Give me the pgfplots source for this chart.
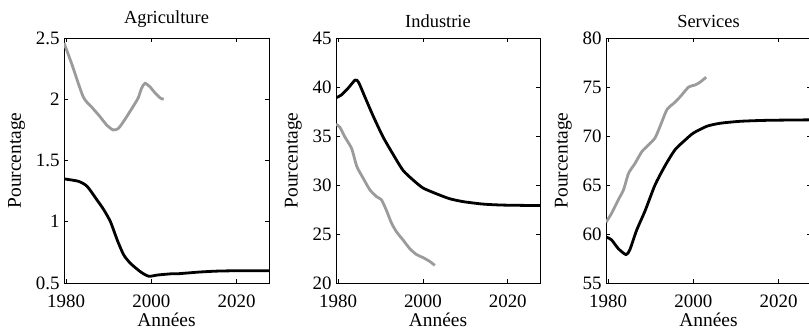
\documentclass[border=0pt]{standalone}
\usepackage{fontspec}
\setmainfont{Liberation Serif}
\usepackage{pgfplots}
\pgfplotsset{compat=1.18}
\definecolor{lgray}{RGB}{155,155,155}
\pgfplotsset{
  panel/.style={
    scale only axis, width=205bp, height=245bp, anchor=south west,
    xmin=1979.5, xmax=2027.6, xtick={1980,2000,2020},
    tick align=inside, major tick length=4bp,
    axis line style={line width=0.8pt}, every tick/.style={black,line width=0.6pt},
    /pgf/number format/assume math mode=true,
    /pgf/number format/1000 sep={},
    ticklabel style={font=\fontsize{19}{19}\selectfont},
    xticklabel style={yshift=-8.5bp},
    yticklabel style={xshift=-1bp},
    label style={font=\fontsize{19.5}{19.5}\selectfont},
    xlabel style={yshift=1.5bp},
    ylabel style={yshift=4bp},
    title style={font=\fontsize{18.5}{18.5}\selectfont, yshift=1bp},
    xlabel={Années}, ylabel={Pourcentage},
    clip=true,
  },
  blk/.style={black, line width=2.8bp, smooth, tension=0.4},
  gry/.style={lgray, line width=2.8bp, smooth, tension=0.4},
}
\begin{document}
\begin{tikzpicture}[x=1bp,y=1bp]
\begin{axis}[panel, at={(64bp,47bp)}, title={Agriculture},
  ymin=0.5, ymax=2.5, ytick={0.5,1,1.5,2,2.5},
  yticklabels={0.5,1,1.5,2,2.5}]
\addplot[gry] coordinates {
(1979.5,2.46) (1981.3,2.29) (1984.0,2.02) (1985.9,1.94) (1987.9,1.86)
(1989.5,1.79) (1991.0,1.75) (1992.2,1.76) (1993.7,1.83) (1995.7,1.94)
(1996.9,2.01) (1997.7,2.09) (1998.5,2.13) (1999.7,2.10) (2000.9,2.05)
(2002.1,2.01) (2002.9,2.00)};
\addplot[blk] coordinates {
(1979.5,1.35) (1982.9,1.33) (1984.9,1.29) (1987.2,1.18) (1988.8,1.10)
(1990.4,1.00) (1992.0,0.85) (1993.5,0.73) (1995.1,0.66) (1997.5,0.59)
(1999.4,0.555) (2001.4,0.565) (2004.6,0.575) (2006.0,0.575) (2011.5,0.59)
(2015.4,0.597) (2020,0.60) (2027.6,0.60)};
\end{axis}
\begin{axis}[panel, at={(336bp,47bp)}, width=204bp, title={Industrie},
  ymin=20, ymax=45, ytick={20,25,30,35,40,45}]
\addplot[gry] coordinates {
(1979.5,36.2) (1980.4,35.9) (1981.6,34.9) (1983.2,33.7) (1984.4,31.9)
(1985.9,30.7) (1987.5,29.5) (1989.1,28.8) (1990.2,28.5) (1991.4,27.4)
(1992.6,26.1) (1993.8,25.2) (1995.3,24.4) (1996.9,23.5) (1998.5,22.9)
(2000.0,22.6) (2001.6,22.2) (2002.8,21.8)};
\addplot[blk] coordinates {
(1979.5,38.9) (1980.8,39.2) (1982.4,39.9) (1984.0,40.7) (1984.8,40.5)
(1986.3,39.0) (1988.3,37.0) (1990.6,34.9) (1993.0,33.1) (1995.3,31.5)
(1997.7,30.5) (2000.0,29.7) (2003.2,29.1) (2006.3,28.6) (2009.5,28.3)
(2014.2,28.05) (2018.9,27.95) (2027.6,27.9)};
\end{axis}
\begin{axis}[panel, at={(606bp,47bp)}, title={Services},
  ymin=55, ymax=80, ytick={55,60,65,70,75,80}]
\addplot[gry] coordinates {
(1979.5,61.2) (1980.8,62.1) (1982.4,63.5) (1983.6,64.5) (1984.8,66.2)
(1986.3,67.2) (1987.9,68.4) (1989.5,69.1) (1991.0,69.8) (1992.2,71.0)
(1993.8,72.7) (1995.3,73.3) (1996.9,74.0) (1998.9,75.0) (2000.4,75.2)
(2001.6,75.5) (2003.0,76.0)};
\addplot[blk] coordinates {
(1979.5,59.7) (1980.8,59.4) (1982.4,58.5) (1984.2,57.9) (1985.1,58.4)
(1986.7,60.4) (1988.7,62.4) (1991.0,65.0) (1993.4,67.0) (1995.7,68.6)
(1998.1,69.6) (2000.0,70.3) (2003.2,71.0) (2006.3,71.3) (2011.0,71.5)
(2017.3,71.6) (2027.6,71.65)};
\end{axis}
\pgfresetboundingbox
\path[use as bounding box] (0,0) rectangle (809bp,330bp);
\end{tikzpicture}
\end{document}
